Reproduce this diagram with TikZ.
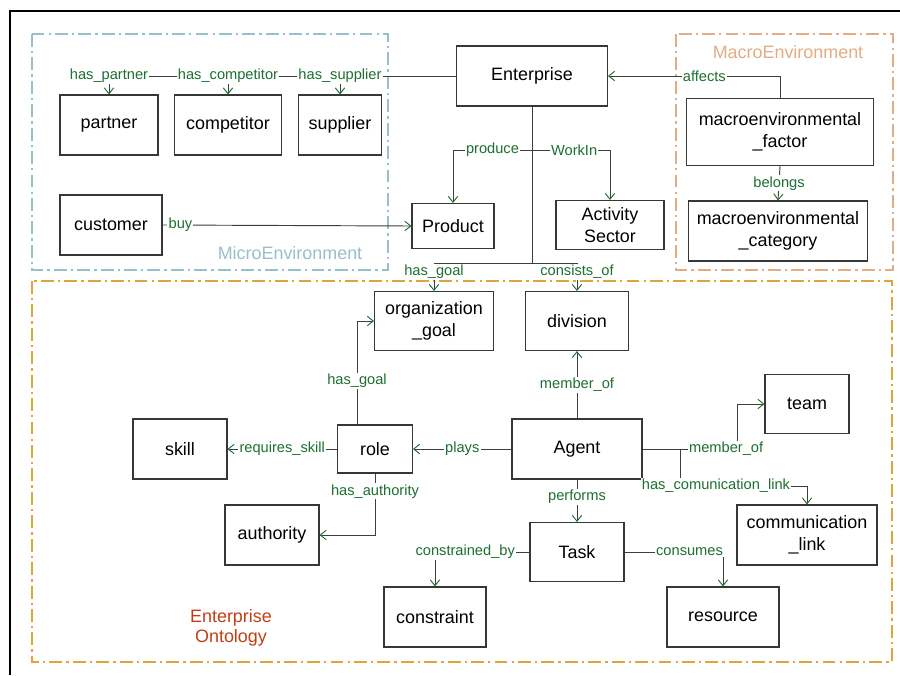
\documentclass[tikz,border=0pt]{standalone}
\usepackage{fontspec}
\setmainfont{Liberation Sans}
\usetikzlibrary{arrows.meta}
\definecolor{microblue}{RGB}{150,192,202}
\definecolor{macrotan}{RGB}{226,172,132}
\definecolor{ontogold}{RGB}{222,166,58}
\definecolor{ontotitle}{RGB}{192,62,22}
\definecolor{relgreen}{RGB}{28,112,48}
\definecolor{linegray}{RGB}{62,62,62}
\definecolor{boxgray}{RGB}{55,55,55}
\tikzstyle{cls} = [draw=boxgray, line width=0.9pt, fill=white, font=\fontsize{15.3}{18.8}\selectfont, align=center, inner sep=0pt]
\tikzstyle{rel} = [draw=linegray, line width=0.8pt, -{Straight Barb[color=relgreen,length=5pt,width=8pt]}]
\tikzstyle{lbl} = [fill=white, text=relgreen, font=\fontsize{12.5}{15}\selectfont, inner sep=1pt]
\tikzstyle{env} = [line width=1.7pt, dash pattern=on 11pt off 3.5pt on 2pt off 3.5pt]
\tikzstyle{envtitle} = [font=\fontsize{15.3}{17}\selectfont, align=center, inner sep=0pt]

\begin{document}
\begin{tikzpicture}[x=0.03cm,y=-0.03cm]
\useasboundingbox (0,0) rectangle (900,675);
\draw[line width=2.1pt] (10,675) -- (10,11) -- (900,11);
\draw[env,draw=microblue,line width=1.4pt] (32,34) rectangle (388,270);
\draw[env,draw=macrotan] (676,34) rectangle (893,270);
\draw[env,draw=ontogold] (32,281) rectangle (892,662);
\node[envtitle,text=microblue] (microtitle) at (290,253) {MicroEnvironment};
\node[envtitle,text=macrotan] (macrotitle) at (788,52) {MacroEnvironment};
\node[envtitle,text=ontotitle] (ontotitle) at (231,628) {Enterprise\\Ontology};

\node[cls,minimum width=4.53cm,minimum height=1.8cm] (ent) at (532,76) {Enterprise};
\node[cls,minimum width=2.94cm,minimum height=1.8cm] (partner) at (109,125) {partner};
\node[cls,minimum width=3.21cm,minimum height=1.8cm] (competitor) at (228,125) {competitor};
\node[cls,minimum width=2.49cm,minimum height=1.8cm] (supplier) at (340,125) {supplier};
\node[cls,minimum width=3.06cm,minimum height=1.8cm] (customer) at (111,225) {customer};
\node[cls,minimum width=2.46cm,minimum height=1.35cm] (product) at (453,226) {Product};
\node[cls,minimum width=3.24cm,minimum height=1.47cm] (sector) at (610,225) {Activity\\Sector};
\node[cls,minimum width=5.61cm,minimum height=2.01cm] (mfactor) at (780,132) {macroenvironmental\\\_factor};
\node[cls,minimum width=5.37cm,minimum height=1.8cm] (mcategory) at (778,231) {macroenvironmental\\\_category};
\node[cls,minimum width=3.57cm,minimum height=1.77cm] (orggoal) at (434,321) {organization\\\_goal};
\node[cls,minimum width=3.09cm,minimum height=1.77cm] (division) at (577,321) {division};
\node[cls,minimum width=2.82cm,minimum height=1.8cm] (skill) at (180,449) {skill};
\node[cls,minimum width=2.25cm,minimum height=1.44cm] (role) at (375,449) {role};
\node[cls,minimum width=3.9cm,minimum height=1.8cm] (agent) at (577,449) {Agent};
\node[cls,minimum width=2.52cm,minimum height=1.77cm] (team) at (807,404) {team};
\node[cls,minimum width=2.82cm,minimum height=1.8cm] (authority) at (272,535) {authority};
\node[cls,minimum width=2.82cm,minimum height=1.77cm] (task) at (577,552) {Task};
\node[cls,minimum width=4.2cm,minimum height=1.8cm] (comlink) at (807,535) {communication\\\_link};
\node[cls,minimum width=3.06cm,minimum height=1.8cm] (constraint) at (435,617) {constraint};
\node[cls,minimum width=3.36cm,minimum height=1.8cm] (resource) at (723,617) {resource};

\coordinate (trunk) at (532,150);
\coordinate (fork) at (532,263);
\draw[draw=linegray,line width=0.8pt] (ent.south) -- (fork);
\draw[rel] (ent.west) -| node[lbl,pos=0.5] (lpartner) {has\_partner} (partner.north);
\draw[rel] (ent.west) -| node[lbl,pos=0.5] (lcompetitor) {has\_competitor} (competitor.north);
\draw[rel] (ent.west) -| node[lbl,pos=0.5] (lsupplier) {has\_supplier} (supplier.north);
\draw[rel] (customer.east) -- node[lbl,pos=0.072] (lbuy) {buy} (product.west);
\draw[rel] (trunk) -| node[lbl,pos=0.25] (lproduce) {produce} (product.north);
\draw[rel] (trunk) -| node[lbl,pos=0.27] (lworkin) {WorkIn} (sector.north);
\draw[rel] (mfactor.north) |- node[lbl,pos=0.72] (laffects) {affects} (ent.east);
\draw[rel] (mfactor.south) -- node[lbl] (lbelongs) {belongs} (mcategory.north);
\draw[rel] (fork) -| node[lbl,pos=0.66] (lhasgoal) {has\_goal} (orggoal.north);
\draw[rel] (fork) -| node[lbl,pos=0.66] (lconsists) {consists\_of} (division.north);

\draw[rel] (agent.north) -- node[lbl] (lmemberdiv) {member\_of} (division.south);
\draw[rel] ([xshift=-0.54cm]role.north) |- node[lbl,pos=0.21] (lrolegoal) {has\_goal} (orggoal.west);
\draw[rel] (role.west) -- node[lbl] (lskill) {requires\_skill} (skill.east);
\draw[rel] (agent.west) -- node[lbl] (lplays) {plays} (role.east);
\draw[rel] (role.south) |- node[lbl,pos=0.145] (lauthority) {has\_authority} (authority.east);
\draw[rel] (agent.south) -- node[lbl,pos=0.41] (lperforms) {performs} (task.north);
\draw[rel] ([xshift=1.14cm]agent.east) -- ++(0,37) -| node[lbl,pos=0.14] (lcomlink) {has\_comunication\_link} (comlink.north);
\draw[rel] (agent.east) -- node[lbl,pos=0.88] (lmemberteam) {member\_of} ++(95,0) |- (team.west);
\draw[rel] (task.west) -| node[lbl,pos=0.34] (lconstrained) {constrained\_by} (constraint.north);
\draw[rel] (task.east) -| node[lbl,pos=0.33] (lconsumes) {consumes} (resource.north);
\end{tikzpicture}
\end{document}
